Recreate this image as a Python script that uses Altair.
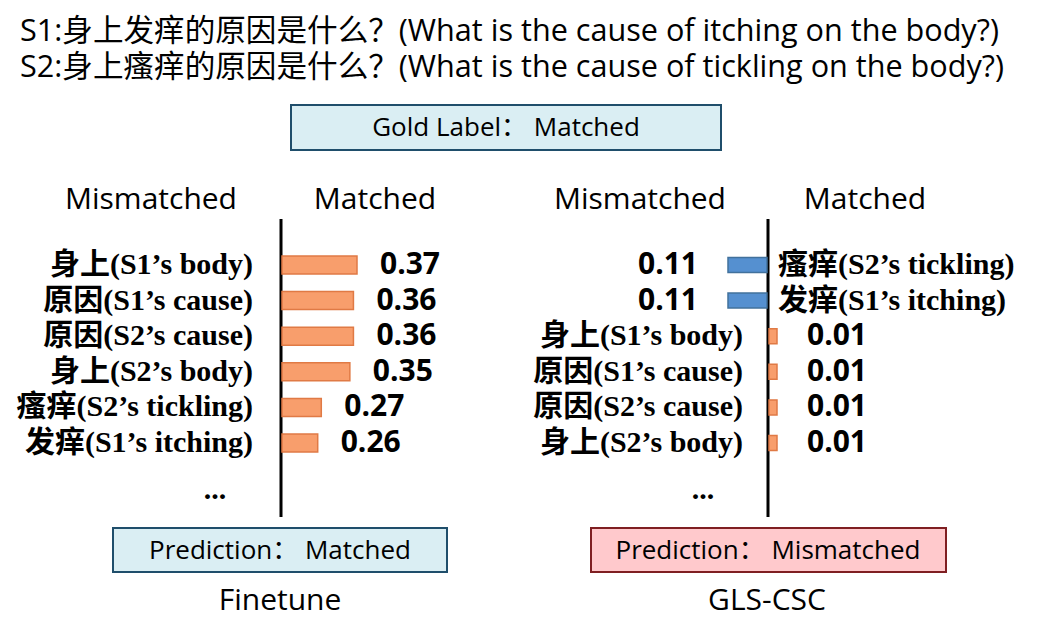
import altair as alt
import pandas as pd

# ---------------- data ----------------
title_lines = [
    "S1:身上发痒的原因是什么？(What is the cause of itching on the body?)",
    "S2:身上瘙痒的原因是什么？(What is the cause of tickling on the body?)",
]
gold_text = "Gold Label：  Matched"
side_names = ["Mismatched", "Matched"]
model_names = ["Finetune", "GLS-CSC"]
pred_texts = ["Prediction：  Matched", "Prediction：  Mismatched"]

ft_labels = ["身上(S1’s body)", "原因(S1’s cause)", "原因(S2’s cause)",
             "身上(S2’s body)", "瘙痒(S2’s tickling)", "发痒(S1’s itching)"]
ft_values = [0.37, 0.36, 0.36, 0.35, 0.27, 0.26]

gls_labels = ["瘙痒(S2’s tickling)", "发痒(S1’s itching)", "身上(S1’s body)",
              "原因(S1’s cause)", "原因(S2’s cause)", "身上(S2’s body)"]
gls_values = [0.11, 0.11, 0.01, 0.01, 0.01, 0.01]
gls_sides = ["Mismatched", "Mismatched", "Matched", "Matched", "Matched", "Matched"]

ft_df = pd.DataFrame({"label": ft_labels, "value": ft_values,
                      "row": list(range(len(ft_labels)))})
gls_df = pd.DataFrame({"label": gls_labels, "value": gls_values, "side": gls_sides,
                       "row": list(range(len(gls_labels)))})
gls_mis = gls_df[gls_df["side"] == "Mismatched"]
gls_mat = gls_df[gls_df["side"] == "Matched"]

# ---------------- styling ----------------
OFF = 8  # page margin
def P(v):
    return v - OFF

SANS = "Open Sans, Noto Sans CJK SC"
LABEL_FONT = "Liberation Serif, Noto Sans CJK SC"
ORANGE, ORANGE_EDGE = "#F89E6C", "#E07A45"
BLUE, BLUE_EDGE = "#5590D0", "#41719C"

row_enc = alt.Y("row:O", scale=alt.Scale(type="point", domain=list(range(6)),
                                         range=[P(265), P(443)], padding=0), axis=None)


def text_at(txt, x, y, size, align="center", weight="normal", font=SANS):
    return alt.Chart(pd.DataFrame({"t": [txt]})).mark_text(
        align=align, baseline="middle", fontSize=size, fontWeight=weight,
        font=font, color="black"
    ).encode(x=alt.value(P(x)), y=alt.value(P(y)), text="t:N")


def box(x1, x2, y1, y2, fill, stroke):
    return alt.Chart(pd.DataFrame({"b": [1]})).mark_rect(
        fill=fill, stroke=stroke, strokeWidth=2
    ).encode(x=alt.value(P(x1)), x2=alt.value(P(x2)),
             y=alt.value(P(y1)), y2=alt.value(P(y2)))


def vline(x, y1, y2):
    return alt.Chart(pd.DataFrame({"b": [1]})).mark_rule(
        color="black", strokeWidth=3
    ).encode(x=alt.value(P(x)), y=alt.value(P(y1)), y2=alt.value(P(y2)))


layers = []
# title
layers.append(text_at(title_lines[0], 20, 32, 30.6, align="left"))
layers.append(text_at(title_lines[1], 20, 68, 30.6, align="left"))
# gold label
layers.append(box(291, 721, 105, 150, "#DAEEF3", "#1F4E6B"))
layers.append(text_at(gold_text, 506, 128, 26))
# headings
layers.append(text_at(side_names[0], 151, 200, 30))
layers.append(text_at(side_names[1], 375, 200, 30))
layers.append(text_at(side_names[0], 640, 200, 30))
layers.append(text_at(side_names[1], 865, 200, 30))
# axis lines
layers.append(vline(281, 219, 517))
layers.append(vline(768, 219, 517))

# ---- Finetune panel ----
ft_x = alt.X("value:Q", scale=alt.Scale(domain=[0.16, 0.37], range=[P(282), P(357)],
                                        zero=False, clamp=True), axis=None)
ft_base = alt.Chart(ft_df)
layers.append(ft_base.mark_bar(height=18, fill=ORANGE, stroke=ORANGE_EDGE, strokeWidth=1.5)
              .encode(y=row_enc, x=ft_x, x2=alt.value(P(283))))
layers.append(ft_base.mark_text(align="left", baseline="middle", dx=23, fontSize=30,
                                fontWeight="bold", font=SANS, color="black")
              .encode(y=row_enc, x=ft_x, text=alt.Text("value:Q", format=".2f")))
layers.append(ft_base.mark_text(align="right", baseline="middle", fontSize=30,
                                fontWeight="bold", font=LABEL_FONT, color="black")
              .encode(y=row_enc, x=alt.value(P(253)), text="label:N"))
layers.append(text_at("...", 215, 490, 30, weight="bold", font=LABEL_FONT))

# ---- GLS-CSC panel ----
mis_x = alt.X("value:Q", scale=alt.Scale(domain=[0, 0.11], range=[P(767), P(728)]), axis=None)
mis_base = alt.Chart(gls_mis)
layers.append(mis_base.mark_bar(height=15, fill=BLUE, stroke=BLUE_EDGE, strokeWidth=1.5)
              .encode(y=row_enc, x=mis_x, x2=alt.value(P(767))))
layers.append(mis_base.mark_text(align="right", baseline="middle", dx=-30, fontSize=30,
                                 fontWeight="bold", font=SANS, color="black")
              .encode(y=row_enc, x=mis_x, text=alt.Text("value:Q", format=".2f")))
layers.append(mis_base.mark_text(align="left", baseline="middle", fontSize=30,
                                 fontWeight="bold", font=LABEL_FONT, color="black")
              .encode(y=row_enc, x=alt.value(P(778)), text="label:N"))

mat_x = alt.X("value:Q", scale=alt.Scale(domain=[0, 0.01], range=[P(769), P(777)]), axis=None)
mat_base = alt.Chart(gls_mat)
layers.append(mat_base.mark_bar(height=15, fill=ORANGE, stroke=ORANGE_EDGE, strokeWidth=1.5)
              .encode(y=row_enc, x=mat_x, x2=alt.value(P(769))))
layers.append(mat_base.mark_text(align="left", baseline="middle", dx=30, fontSize=30,
                                 fontWeight="bold", font=SANS, color="black")
              .encode(y=row_enc, x=mat_x, text=alt.Text("value:Q", format=".2f")))
layers.append(mat_base.mark_text(align="right", baseline="middle", fontSize=30,
                                 fontWeight="bold", font=LABEL_FONT, color="black")
              .encode(y=row_enc, x=alt.value(P(743)), text="label:N"))
layers.append(text_at("...", 703, 490, 30, weight="bold", font=LABEL_FONT))

# ---- bottom boxes ----
layers.append(box(113, 447, 528, 572, "#DAEEF3", "#1F4E6B"))
layers.append(text_at(pred_texts[0], 280, 551, 26))
layers.append(box(591, 946, 528, 572, "#FFC9CC", "#7F1F22"))
layers.append(text_at(pred_texts[1], 768, 551, 26))
layers.append(text_at(model_names[0], 280, 601, 30))
layers.append(text_at(model_names[1], 767, 601, 30))

chart = alt.layer(*layers).resolve_scale(x="independent").properties(
    width=1025, height=612, padding=0, autosize=alt.AutoSizeParams(type="none"),
    background="white"
).configure_view(stroke=None)

chart.save("out.html", embed_options={"renderer": "svg", "actions": False})
